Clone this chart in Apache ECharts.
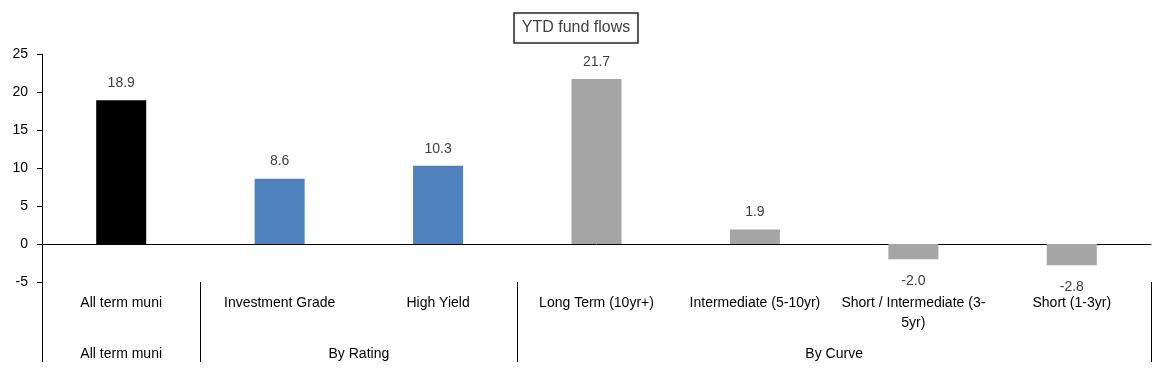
<!DOCTYPE html>
<html>
<head>
<meta charset="utf-8">
<script src="https://cdn.jsdelivr.net/npm/echarts@6/dist/echarts.min.js"></script>
<style>html,body{margin:0;padding:0;background:#fff}#c{width:1152px;height:369px}</style>
</head>
<body>
<div id="c"></div>
<script>
var categories = ["All term muni", "Investment Grade", "High Yield", "Long Term (10yr+)", "Intermediate (5-10yr)", "Short / Intermediate (3-5yr)", "Short (1-3yr)"];
var catLabels = ["All term muni", "Investment Grade", "High Yield", "Long Term (10yr+)", "Intermediate (5-10yr)", "Short / Intermediate (3-\n5yr)", "Short (1-3yr)"];
var values = [18.9, 8.6, 10.3, 21.7, 1.9, -2.0, -2.8];
var groups = ["All term muni", "By Rating", "By Curve"];
var groupStart = [0, 1, 3];
var groupEnd = [1, 3, 7];
var yTicks = [-5, 0, 5, 10, 15, 20, 25];
var barColors = ["#000000", "#4F81BD", "#4F81BD", "#A5A5A5", "#A5A5A5", "#A5A5A5", "#A5A5A5"];

var groupCenters = groups.map(function (g, i) { return (groupStart[i] + groupEnd[i]) / 2; });
var catCenters = categories.map(function (c, i) { return i + 0.5; });
var font = "Liberation Sans, Arial, sans-serif";

var chart = echarts.init(document.getElementById('c'), null, {renderer: 'canvas'});
chart.setOption({
  animation: false,
  title: {
    text: 'YTD fund flows',
    left: 'center',
    top: 13,
    padding: [7, 8, 7, 8],
    borderColor: '#262626',
    borderWidth: 1.5,
    textStyle: {fontFamily: font, fontSize: 16, fontWeight: 'normal', color: '#404040'}
  },
  grid: {left: 42, right: 1, top: 54, bottom: 87, containLabel: false},
  xAxis: [
    {
      type: 'category', data: categories,
      axisLine: {onZero: true, lineStyle: {color: '#000', width: 1}},
      axisTick: {show: false}, axisLabel: {show: false}, splitLine: {show: false}
    },
    {
      type: 'value', min: 0, max: 7, position: 'bottom',
      axisLine: {show: false, onZero: false},
      axisTick: {show: false}, splitLine: {show: false},
      axisLabel: {
        customValues: catCenters, margin: 11,
        fontFamily: font, fontSize: 14, color: '#000', lineHeight: 20,
        formatter: function (v) { return catLabels[Math.round(v - 0.5)]; }
      }
    },
    {
      type: 'value', min: 0, max: 7, position: 'bottom',
      axisLine: {show: false, onZero: false},
      splitLine: {show: false},
      axisTick: {show: true, customValues: [0, 1, 3, 7], length: 80, inside: false, lineStyle: {color: '#000', width: 1}},
      axisLabel: {
        customValues: groupCenters, margin: 62,
        fontFamily: font, fontSize: 14, color: '#000', lineHeight: 20,
        formatter: function (v) {
          for (var i = 0; i < groupCenters.length; i++) { if (Math.abs(groupCenters[i] - v) < 0.01) return groups[i]; }
          return '';
        }
      }
    }
  ],
  yAxis: {
    type: 'value', min: yTicks[0], max: yTicks[yTicks.length - 1], interval: 5,
    axisLine: {show: true, lineStyle: {color: '#000', width: 1}},
    axisTick: {show: true, length: 5, lineStyle: {color: '#000'}},
    splitLine: {show: false},
    axisLabel: {margin: 14, fontFamily: font, fontSize: 14, color: '#000'}
  },
  series: [{
    type: 'bar',
    xAxisIndex: 0,
    barWidth: 50,
    data: values.map(function (v, i) {
      return {
        value: v,
        itemStyle: {color: barColors[i]},
        label: {position: v < 0 ? 'bottom' : 'top', distance: v < 0 ? 15 : 10}
      };
    }),
    label: {
      show: true,
      fontFamily: font, fontSize: 14, color: '#404040',
      formatter: function (p) { return p.value.toFixed(1); }
    }
  }]
});
</script>
</body>
</html>
